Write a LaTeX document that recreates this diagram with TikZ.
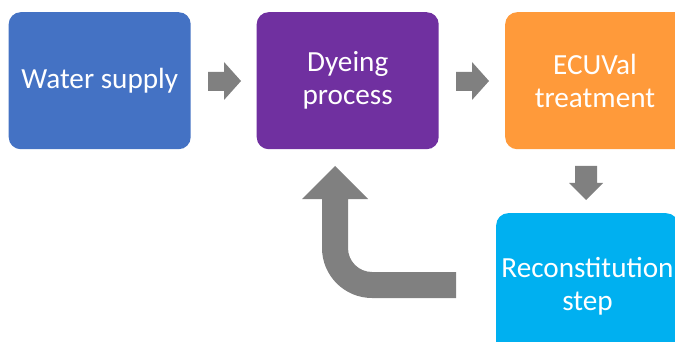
\documentclass[tikz,border=0pt]{standalone}
\usepackage{fontspec}
\setmainfont{Carlito}
\definecolor{cblue}{HTML}{4472C4}
\definecolor{cpurple}{HTML}{7030A0}
\definecolor{corange}{HTML}{FF9A3A}
\definecolor{ccyan}{HTML}{00B0F0}
\definecolor{cgray}{HTML}{808080}
\tikzset{
  boxtext/.style={text=white, align=center, font=\fontsize{29.2}{33}\selectfont, inner sep=0pt},
  box/.style={boxtext, rounded corners=12pt, minimum width=182pt, minimum height=137pt, anchor=north west},
  blockarrow/.style={fill=cgray, draw=none}
}
\begin{document}
\begin{tikzpicture}[x=1pt,y=-1pt]
\clip (0,0) rectangle (675,342);
\fill[white] (0,0) rectangle (675,342);
\node[box, fill=cblue] (ws) at (8.5,12) {Water supply};
\node[box, fill=cpurple] (dp) at (256.5,12) {Dyeing\\process};
\node[box, fill=corange] (ec) at (505,12) {};
\node[boxtext] (ect) at (595,80.5) {ECUVal\\treatment};
\node[box, fill=ccyan, minimum height=150pt] (rc) at (496,213) {};
\node[boxtext] (rct) at (587.5,286) {Reconstitution\\step};
% arrow ws -> dp
\fill[blockarrow] (208,72) -- (224,72) -- (224,62) -- (241,81) -- (224,100) -- (224,91) -- (208,91) -- cycle;
% arrow dp -> ec
\fill[blockarrow] (456,72) -- (472,72) -- (472,62) -- (489,81) -- (472,100) -- (472,91) -- (456,91) -- cycle;
% arrow ec -> rc
\fill[blockarrow] (575,166) -- (597,166) -- (597,183) -- (603,183) -- (586,200) -- (569,183) -- (575,183) -- cycle;
% U-arrow rc -> dp
\fill[blockarrow] (456,298) -- (372,298) .. controls (344.4,298) and (322,275.6) .. (322,248)
  -- (322,199) -- (302,199) -- (335,166) -- (368,199) -- (348,199) -- (348,248)
  .. controls (348,261.25) and (358.75,272) .. (372,272) -- (456,272) -- cycle;
\end{tikzpicture}
\end{document}
